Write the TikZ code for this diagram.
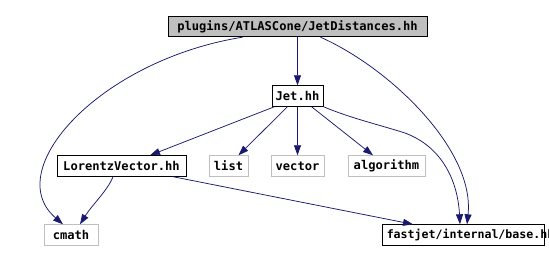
\documentclass[tikz,border=0pt]{standalone}
\usepackage{fontspec}
\setmonofont{DejaVu Sans Mono}
\usetikzlibrary{arrows.meta}
\definecolor{edgecol}{HTML}{191970}
\definecolor{graybox}{HTML}{BFBFBF}
\tikzset{
  lbl/.style={font=\ttfamily\bfseries\fontsize{12.1}{13}\selectfont},
  box/.style={draw=black, line width=0.9pt, minimum height=20.5pt, inner sep=0pt, lbl},
  sysbox/.style={box, draw=graybox},
  mainbox/.style={box, fill=graybox},
  dep/.style={draw=edgecol, line width=0.75pt, -{Triangle[length=10pt,width=7pt]}},
}
\begin{document}
\begin{tikzpicture}[x=1pt,y=-1pt]
\useasboundingbox (0,0) rectangle (549,262);
\node[mainbox, minimum width=259pt] (top) at (297.5,26.5) {plugins/ATLASCone/JetDistances.hh};
\node[box, minimum width=51pt] (jet) at (297.5,96) {Jet.hh};
\node[box, minimum width=129pt] (lv) at (121.5,166) {LorentzVector.hh};
\node[sysbox, minimum width=39pt] (list) at (228.5,166) {list};
\node[sysbox, minimum width=53pt] (vector) at (297.5,166) {vector};
\node[sysbox, minimum width=77pt] (algo) at (386.5,166) {algorithm};
\node[sysbox, minimum width=54pt] (cmath) at (71,235) {cmath};
\node[box, minimum width=162pt] (fj) at (463,235) {};
\node[anchor=west, inner sep=0pt, font=\ttfamily\bfseries\fontsize{11.6}{12.5}\selectfont] (fjtext) at ([xshift=5pt]fj.west) {fastjet/internal/base.hh};

\draw[dep] ([xshift=-55pt]top.south) .. controls (100,60) and (0,170) .. ([xshift=-8pt]cmath.north);
\draw[dep] (top.south) -- (jet.north);
\draw[dep] ([xshift=23pt]top.south) .. controls (390,68) and (475,150) .. ([xshift=4pt]fj.north);
\draw[dep] ([xshift=-23pt]jet.south) -- ([xshift=28.5pt]lv.north);
\draw[dep] ([xshift=-10pt]jet.south) -- ([xshift=10pt]list.north);
\draw[dep] (jet.south) -- (vector.north);
\draw[dep] ([xshift=14pt]jet.south) -- ([xshift=-13.5pt]algo.north);
\draw[dep] (jet.south east) .. controls (350,118) and (380,125) .. (405,133) .. controls (445,148) and (458,185) .. ([xshift=-3pt]fj.north);
\draw[dep] ([xshift=-8.5pt]lv.south) .. controls (108,190) and (92,205) .. ([xshift=9pt]cmath.north);
\draw[dep] ([xshift=51.5pt]lv.south) -- ([xshift=-50pt]fj.north);
\end{tikzpicture}
\end{document}
